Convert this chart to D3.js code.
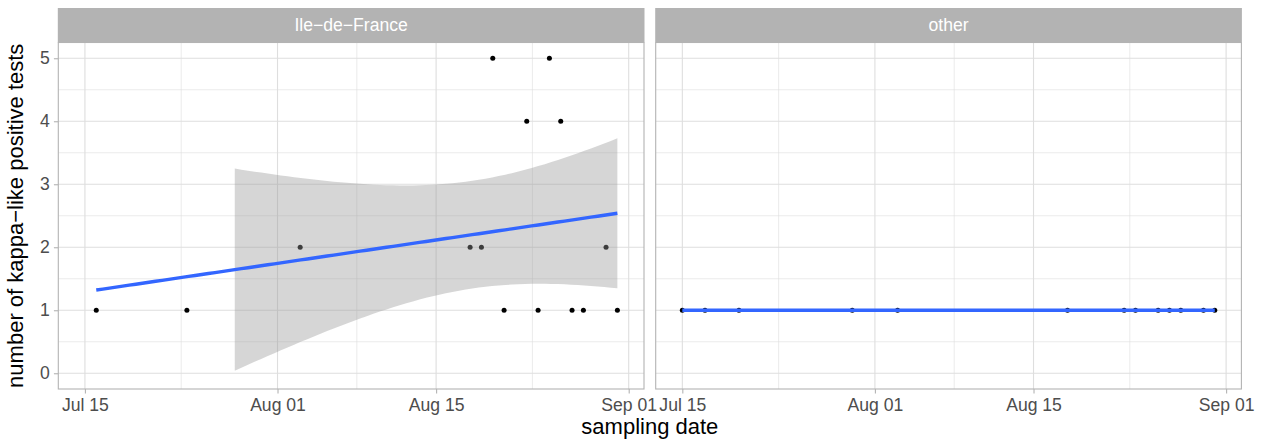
<!DOCTYPE html>
<html>
<head>
<meta charset="utf-8">
<script src="https://cdn.jsdelivr.net/npm/d3@7/dist/d3.min.js"></script>
<style>
  body { margin: 0; background: #fff; }
  svg { display: block; font-family: "Liberation Sans", Arial, sans-serif; }
</style>
</head>
<body>
<div id="chart"></div>
<script>
// facets
var regions = ['Ile\u2212de\u2212France', 'other'];

// Ile-de-France samples
var idfDates = ['2021-07-16', '2021-07-24', '2021-08-03', '2021-08-18', '2021-08-19', '2021-08-20',
  '2021-08-21', '2021-08-23', '2021-08-24', '2021-08-25', '2021-08-26', '2021-08-27',
  '2021-08-28', '2021-08-30', '2021-08-31'];
var idfCounts = [1, 1, 2, 2, 2, 5, 1, 4, 1, 5, 4, 1, 1, 2, 1];

// other regions
var otherDates = ['2021-07-15', '2021-07-17', '2021-07-20', '2021-07-30', '2021-08-03', '2021-08-18',
  '2021-08-23', '2021-08-24', '2021-08-26', '2021-08-27', '2021-08-28', '2021-08-30', '2021-08-31'];
var otherCounts = [1, 1, 1, 1, 1, 1, 1, 1, 1, 1, 1, 1, 1];

var xTickDates = ['2021-07-15', '2021-08-01', '2021-08-15', '2021-09-01'];
var xTickLabels = ['Jul 15', 'Aug 01', 'Aug 15', 'Sep 01'];
var yTicks = [0, 1, 2, 3, 4, 5];
var yLimits = [0, 5];

// qt(0.975, df) for the lm confidence band
var tQuantile = { 11: 2.201, 13: 2.160 };

(function () {
  'use strict';
  var W = 1263, H = 447;
  var parse = d3.utcParse('%Y-%m-%d');
  var DAY = 864e5;

  var panels = [
    { name: regions[0], dates: idfDates.map(parse), counts: idfCounts },
    { name: regions[1], dates: otherDates.map(parse), counts: otherCounts }
  ];

  var PX = [58.3, 655.7], PW = 585.7;
  var PT = 42.5, PH = 346.5, STRIP_T = 8;

  var allDates = panels[0].dates.concat(panels[1].dates);
  var ext = d3.extent(allDates, function (d) { return +d; });
  var pad = (ext[1] - ext[0]) * 0.05;
  var x = d3.scaleUtc().domain([new Date(ext[0] - pad), new Date(ext[1] + pad)]).range([0, PW]);
  var yPad = (yLimits[1] - yLimits[0]) * 0.05;
  var y = d3.scaleLinear().domain([yLimits[0] - yPad, yLimits[1] + yPad]).range([PH, 0]);

  var majorX = xTickDates.map(parse);
  var minorX = d3.pairs(majorX).map(function (p) { return new Date((+p[0] + +p[1]) / 2); });
  var minorY = d3.pairs(yTicks).map(function (p) { return (p[0] + p[1]) / 2; });

  var svg = d3.select('#chart').append('svg').attr('width', W).attr('height', H);

  // lm fit with 95% band, evaluated at 80 points like geom_smooth
  function fitLm(dates, counts) {
    var xs = dates.map(function (d) { return (+d - ext[0]) / DAY; });
    var n = xs.length, xm = d3.mean(xs), ym = d3.mean(counts);
    var sxx = d3.sum(xs, function (v) { return (v - xm) * (v - xm); });
    var sxy = d3.sum(xs, function (v, i) { return (v - xm) * (counts[i] - ym); });
    var b = sxy / sxx, a = ym - b * xm;
    var sse = d3.sum(xs, function (v, i) { var r = counts[i] - (a + b * v); return r * r; });
    var s = Math.sqrt(sse / (n - 2));
    var t = tQuantile[n - 2] || 1.96;
    var lo = d3.min(xs), hi = d3.max(xs);
    return d3.range(80).map(function (k) {
      var xv = lo + (hi - lo) * k / 79;
      var fit = a + b * xv;
      var se = s * Math.sqrt(1 / n + (xv - xm) * (xv - xm) / sxx);
      return { date: new Date(ext[0] + xv * DAY), fit: fit, ymin: fit - t * se, ymax: fit + t * se };
    });
  }

  panels.forEach(function (p, i) {
    var g = svg.append('g').attr('transform', 'translate(' + PX[i] + ',' + PT + ')');

    // grid
    g.append('g').selectAll('line').data(minorY).join('line')
      .attr('x1', 0).attr('x2', PW).attr('y1', y).attr('y2', y)
      .attr('stroke', '#dedede').attr('stroke-width', 0.6);
    g.append('g').selectAll('line').data(minorX).join('line')
      .attr('y1', 0).attr('y2', PH).attr('x1', x).attr('x2', x)
      .attr('stroke', '#dedede').attr('stroke-width', 0.6);
    g.append('g').selectAll('line').data(yTicks).join('line')
      .attr('x1', 0).attr('x2', PW).attr('y1', y).attr('y2', y)
      .attr('stroke', '#dedede').attr('stroke-width', 1.1);
    g.append('g').selectAll('line').data(majorX).join('line')
      .attr('y1', 0).attr('y2', PH).attr('x1', x).attr('x2', x)
      .attr('stroke', '#dedede').attr('stroke-width', 1.1);

    // points
    g.append('g').selectAll('circle').data(p.dates).join('circle')
      .attr('cx', function (d) { return x(d); })
      .attr('cy', function (d, j) { return y(p.counts[j]); })
      .attr('r', 2.5).attr('fill', '#000');

    // smooth
    var sm = fitLm(p.dates, p.counts);
    var band = sm.filter(function (d) { return d.ymin >= yLimits[0] && d.ymax <= yLimits[1]; });
    g.append('path').datum(band)
      .attr('d', d3.area().x(function (d) { return x(d.date); })
        .y0(function (d) { return y(d.ymin); }).y1(function (d) { return y(d.ymax); }))
      .attr('fill', '#999999').attr('fill-opacity', 0.4);
    g.append('path').datum(sm)
      .attr('d', d3.line().x(function (d) { return x(d.date); }).y(function (d) { return y(d.fit); }))
      .attr('fill', 'none').attr('stroke', '#3366ff').attr('stroke-width', 3.4);

    // border
    g.append('rect').attr('x', 0).attr('y', 0).attr('width', PW).attr('height', PH)
      .attr('fill', 'none').attr('stroke', '#b3b3b3').attr('stroke-width', 1.1);

    // strip
    svg.append('rect').attr('x', PX[i] - 0.5).attr('y', STRIP_T).attr('width', PW + 1).attr('height', PT - STRIP_T)
      .attr('fill', '#b3b3b3');
    svg.append('text').attr('x', PX[i] + PW / 2).attr('y', PT - (PT - STRIP_T) / 2)
      .attr('dy', '0.35em').attr('text-anchor', 'middle')
      .attr('fill', '#ffffff').attr('font-size', 17.6).text(p.name);

    // x axis
    var xa = g.append('g').attr('transform', 'translate(0,' + PH + ')')
      .call(d3.axisBottom(x).tickValues(majorX).tickSize(4.4).tickPadding(5)
        .tickFormat(function (d, j) { return xTickLabels[j]; }));
    xa.select('.domain').remove();
    xa.selectAll('line').attr('stroke', '#b3b3b3').attr('stroke-width', 1.1);
    xa.selectAll('text').attr('fill', '#4d4d4d').attr('font-size', 17.6)
      .attr('font-family', '"Liberation Sans", Arial, sans-serif');

    if (i === 0) {
      var ya = g.append('g').call(d3.axisLeft(y).tickValues(yTicks).tickSize(4.4).tickPadding(4)
        .tickFormat(d3.format('d')));
      ya.select('.domain').remove();
      ya.selectAll('line').attr('stroke', '#b3b3b3').attr('stroke-width', 1.1);
      ya.selectAll('text').attr('fill', '#4d4d4d').attr('font-size', 17.6)
        .attr('font-family', '"Liberation Sans", Arial, sans-serif');
    }
  });

  // axis titles
  svg.append('text').attr('x', (PX[0] + PX[1] + PW) / 2).attr('y', 434)
    .attr('text-anchor', 'middle').attr('font-size', 22).attr('fill', '#000')
    .text('sampling date');
  svg.append('text').attr('transform', 'translate(23,' + (PT + PH / 2) + ') rotate(-90)')
    .attr('text-anchor', 'middle').attr('font-size', 22).attr('fill', '#000')
    .text('number of kappa\u2212like positive tests');
})();
</script>
</body>
</html>
